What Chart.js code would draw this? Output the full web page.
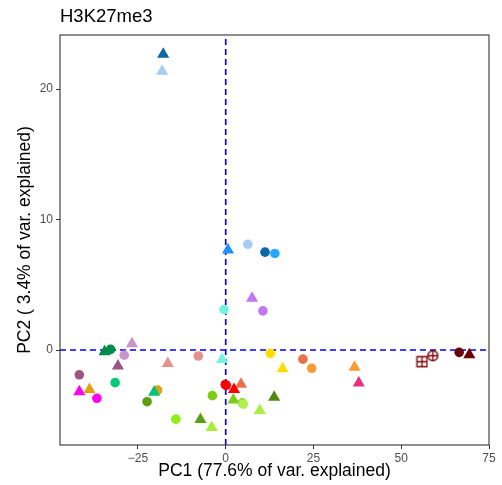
<!DOCTYPE html>
<html><head><meta charset="utf-8">
<script src="https://cdn.jsdelivr.net/npm/chart.js@4/dist/chart.umd.min.js"></script>
<style>html,body{margin:0;padding:0;background:#fff}</style>
</head><body>
<canvas id="c" width="502" height="485"></canvas>
<script>
// ---- data ----
const pc1 = [6.3, 11.2, 14.0, 10.6, -0.5, -32.8, -28.9, -7.8, -41.7, -36.7, -31.5, -19.4, -22.4, -14.2, -3.8, -0.15, 0.15, 12.7, 22.0, 24.5, 66.5,
             -17.8, -18.1, 0.65, 7.5, -1.05, -34.5, -26.7, -30.7, -16.5, -41.7, -38.8, -20.4, -7.2, -4.0, 16.2, 36.7, 37.9, 4.35, 2.36, 2.2, 13.8, 9.7, 69.4,
             4.75, 5.0,
             55.9, 59.0];
const pc2 = [8.1, 7.5, 7.4, 3.0, 3.1, 0.05, -0.4, -0.46, -1.9, -3.7, -2.5, -3.07, -3.96, -5.3, -3.5, -2.65, -2.7, -0.25, -0.7, -1.4, -0.18,
             22.67, 21.37, 7.67, 3.97, -0.73, -0.13, 0.47, -1.23, -1.03, -3.2, -3.03, -3.23, -5.33, -5.93, -1.43, -1.33, -2.53, -2.63, -3.03, -3.83, -3.63, -4.63, -0.36,
             -4.05, -4.15,
             -0.9, -0.44];
const colors = ['#a6cef2', '#0b66a8', '#29a6ff', '#c277f2', '#70f6df', '#008c4a', '#c994c9', '#e8908c', '#9c5686', '#ff00ee', '#06c977', '#e5a012', '#5e9e12', '#8eee16', '#7ecc18', '#e00010', '#ff0000', '#ffdd00', '#e8704a', '#ff9a33', '#6b0000',
                '#0b66a8', '#a6cef2', '#1e90ff', '#c277f2', '#70f6df', '#008c4a', '#c994c9', '#9c5686', '#e8908c', '#ff00ee', '#e5a012', '#00c27a', '#5e9e12', '#a2f034', '#ffdd00', '#ff9a33', '#e8307e', '#e8704a', '#ff0000', '#7ecc18', '#4f8a10', '#a6f044', '#6b0000',
                '#92d43a', '#aef050',
                '#7a0000', '#7a0000'];
const shapes = [
  'circle','circle','circle','circle','circle','circle','circle','circle','circle','circle','circle','circle','circle','circle','circle','circle','circle','circle','circle','circle','circle',
  'triangle','triangle','triangle','triangle','triangle','triangle','triangle','triangle','triangle','triangle','triangle','triangle','triangle','triangle','triangle','triangle','triangle','triangle','triangle','triangle','triangle','triangle','triangle',
  'circle','circle',
  'squarePlus','circlePlus'];
const xTicks = [-25, 0, 25, 50, 75];
const yTicks = [0, 10, 20];
const xLimits = [-47.2, 75];
const yLimits = [-7.28, 24.14];
const refX = 0, refY = 0;
const titleText = 'H3K27me3';
const xTitle = 'PC1 (77.6% of var. explained)';
const yTitle = 'PC2 ( 3.4% of var. explained)';

// ---- symbols ----
function makeSymbol(kind, color) {
  const s = 13, c = document.createElement('canvas');
  c.width = s; c.height = s;
  const g = c.getContext('2d');
  g.strokeStyle = color; g.lineWidth = 1.3;
  g.beginPath();
  if (kind === 'squarePlus') {
    g.rect(1.5, 1.5, 10, 10);
  } else {
    g.arc(6.5, 6.5, 5, 0, 2 * Math.PI);
  }
  g.moveTo(6.5, 1.5); g.lineTo(6.5, 11.5);
  g.moveTo(1.5, 6.5); g.lineTo(11.5, 6.5);
  g.stroke();
  return c;
}
const pts = pc1.map((x, i) => ({x, y: pc2[i]}));
const styles = shapes.map((s, i) => (s === 'circle' || s === 'triangle') ? s : makeSymbol(s, colors[i]));
const radii = shapes.map(s => s === 'triangle' ? 7 : (s === 'circle' ? 4.8 : 6));

const FONT = "'Liberation Sans', Arial, Helvetica, sans-serif";

const frame = {
  id: 'frame',
  afterDraw(chart) {
    const {ctx, chartArea: a} = chart;
    ctx.save();
    ctx.strokeStyle = '#333333';
    ctx.lineWidth = 1.1;
    ctx.strokeRect(a.left, a.top, a.right - a.left, a.bottom - a.top);
    ctx.restore();
  }
};

new Chart(document.getElementById('c'), {
  type: 'scatter',
  data: {
    datasets: [
      {
        data: pts,
        pointStyle: styles,
        pointRadius: radii,
        pointHoverRadius: radii,
        backgroundColor: colors,
        borderColor: colors,
        borderWidth: 0,
        pointBorderWidth: 0
      },
      {
        type: 'line',
        data: [{x: refX, y: yLimits[0]}, {x: refX, y: yLimits[1]}],
        borderColor: '#0000ff', borderWidth: 1.7, borderDash: [6, 4],
        pointRadius: 0, fill: false
      },
      {
        type: 'line',
        data: [{x: xLimits[0], y: refY}, {x: xLimits[1], y: refY}],
        borderColor: '#0000ff', borderWidth: 1.7, borderDash: [6, 4],
        pointRadius: 0, fill: false
      }
    ]
  },
  options: {
    responsive: false,
    animation: false,
    events: [],
    layout: {padding: {left: 0, right: 13, top: 0, bottom: 0}},
    plugins: {
      legend: {display: false},
      tooltip: {enabled: false},
      title: {
        display: true, text: titleText, align: 'start', fullSize: false,
        color: '#000', font: {family: FONT, size: 18.5, weight: 'normal'},
        padding: {top: 6, bottom: 6.8}
      }
    },
    scales: {
      x: {
        type: 'linear', min: xLimits[0], max: xLimits[1],
        afterBuildTicks: s => { s.ticks = xTicks.map(v => ({value: v})); },
        afterFit: s => { s.height = 40; },
        ticks: {
          color: '#4d4d4d', font: {family: FONT, size: 12}, padding: 2,
          callback: v => String(v).replace('-', '\u2212')
        },
        grid: {display: true, drawOnChartArea: false, drawTicks: true, tickLength: 4, color: '#333333', tickColor: '#333333'},
        border: {display: false},
        title: {display: true, text: xTitle, color: '#000', font: {family: FONT, size: 17.5}, padding: {top: 0, bottom: 3.5}}
      },
      y: {
        type: 'linear', min: yLimits[0], max: yLimits[1],
        afterBuildTicks: s => { s.ticks = yTicks.map(v => ({value: v})); },
        afterFit: s => { s.width = 60; },
        ticks: {
          color: '#4d4d4d', font: {family: FONT, size: 12}, padding: 3,
          callback: v => String(v).replace('-', '\u2212')
        },
        grid: {display: true, drawOnChartArea: false, drawTicks: true, tickLength: 4, color: '#333333', tickColor: '#333333'},
        border: {display: false},
        title: {display: true, text: yTitle, color: '#000', font: {family: FONT, size: 17.5}, padding: {top: 14.5, bottom: 0}}
      }
    }
  },
  plugins: [frame]
});
</script>
</body></html>
